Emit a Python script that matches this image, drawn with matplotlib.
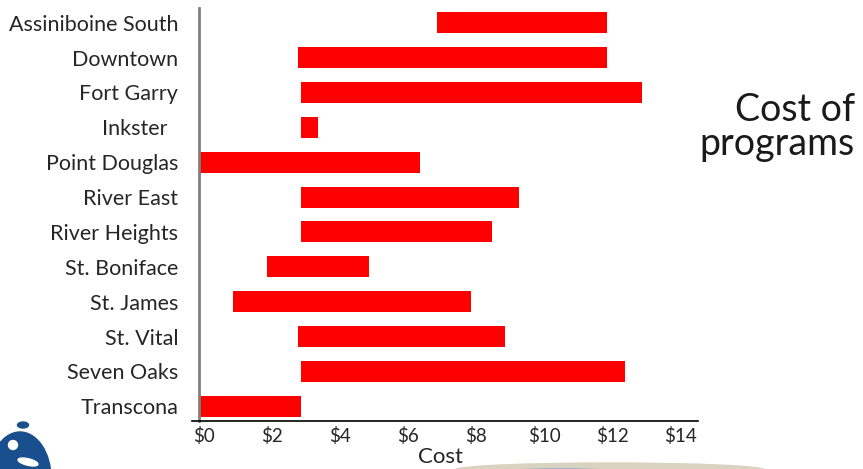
import matplotlib.pyplot as plt
import matplotlib.transforms as mtransforms
from matplotlib.patches import Circle, Ellipse

plt.rcParams['font.family'] = ['Lato', 'DejaVu Sans']

areas = ['Assiniboine South', 'Downtown', 'Fort Garry', 'Inkster  ', 'Point Douglas',
         'River East', 'River Heights', 'St. Boniface', 'St. James', 'St. Vital',
         'Seven Oaks', 'Transcona']
cost_low = [7.0, 2.9, 3.0, 3.0, 0.0, 3.0, 3.0, 2.0, 1.0, 2.9, 3.0, 0.0]
cost_high = [12.0, 12.0, 13.0, 3.5, 6.5, 9.4, 8.6, 5.0, 8.0, 9.0, 12.5, 3.0]
xticks = [0, 2, 4, 6, 8, 10, 12, 14]

W, H = 863, 469
fig = plt.figure(figsize=(W / 100, H / 100), dpi=100)
ax = fig.add_axes([199 / W, 48 / H, 497 / W, 413 / H])

widths = [hi - lo for lo, hi in zip(cost_low, cost_high)]
ax.barh(range(len(areas)), widths, left=cost_low, height=0.6, color='#ff0000')

ax.set_xlim(0, 14.6)
ax.set_ylim(11.42, -0.42)
ax.set_yticks(range(len(areas)))
ax.set_yticklabels(areas, fontsize=15.5, color='#262626')
ax.set_xticks(xticks)
ax.set_xticklabels(['$' + str(v) for v in xticks], fontsize=13.5, color='#262626')
ax.tick_params(axis='y', length=0, pad=15)
ax.tick_params(axis='x', length=0, pad=4)

# nudge the dollar labels a little to the right
shift = mtransforms.ScaledTranslation(5 / 100, 0, fig.dpi_scale_trans)
for lbl in ax.get_xticklabels():
    lbl.set_transform(lbl.get_transform() + shift)

ax.set_xlabel('Cost', fontsize=16, color='#262626')
ax.xaxis.set_label_coords(241 / 497, -0.063)

for s in ['top', 'right']:
    ax.spines[s].set_visible(False)
ax.spines['left'].set_color('#808080')
ax.spines['left'].set_linewidth(2)
ax.spines['bottom'].set_color('black')
ax.spines['bottom'].set_linewidth(1.2)
ax.spines['bottom'].set_bounds(-0.2, 14.65)

fig.text(855 / W, 1 - 127 / H, 'Cost of\nprograms', ha='right', va='center',
         multialignment='right', fontsize=27, color='#1a1a1a', linespacing=0.95)

# logo in the corner and the swoosh along the bottom edge
blue = '#1a4f8f'
fig.add_artist(Ellipse((20 / W, 1 - 478 / H), 62 / W, 92 / H, color=blue,
                       transform=fig.transFigure))
fig.add_artist(Ellipse((13 / W, 1 - 445 / H), 9 / W, 9 / H, color='white',
                       transform=fig.transFigure))
fig.add_artist(Ellipse((28 / W, 1 - 462 / H), 22 / W, 6 / H, angle=-30, color='white',
                       transform=fig.transFigure))
fig.add_artist(Circle((23 / W, 1 - 425 / H), 5.5 / W, color=blue,
                      transform=fig.transFigure))
fig.add_artist(Ellipse((610 / W, -1 / H), 310 / W, 14 / H, color='#d9d2c0',
                       transform=fig.transFigure))
fig.add_artist(Ellipse((560 / W, -4 / H), 140 / W, 8 / H, color='#7fa6c9',
                       transform=fig.transFigure))

fig.savefig('out.png', dpi=100)
